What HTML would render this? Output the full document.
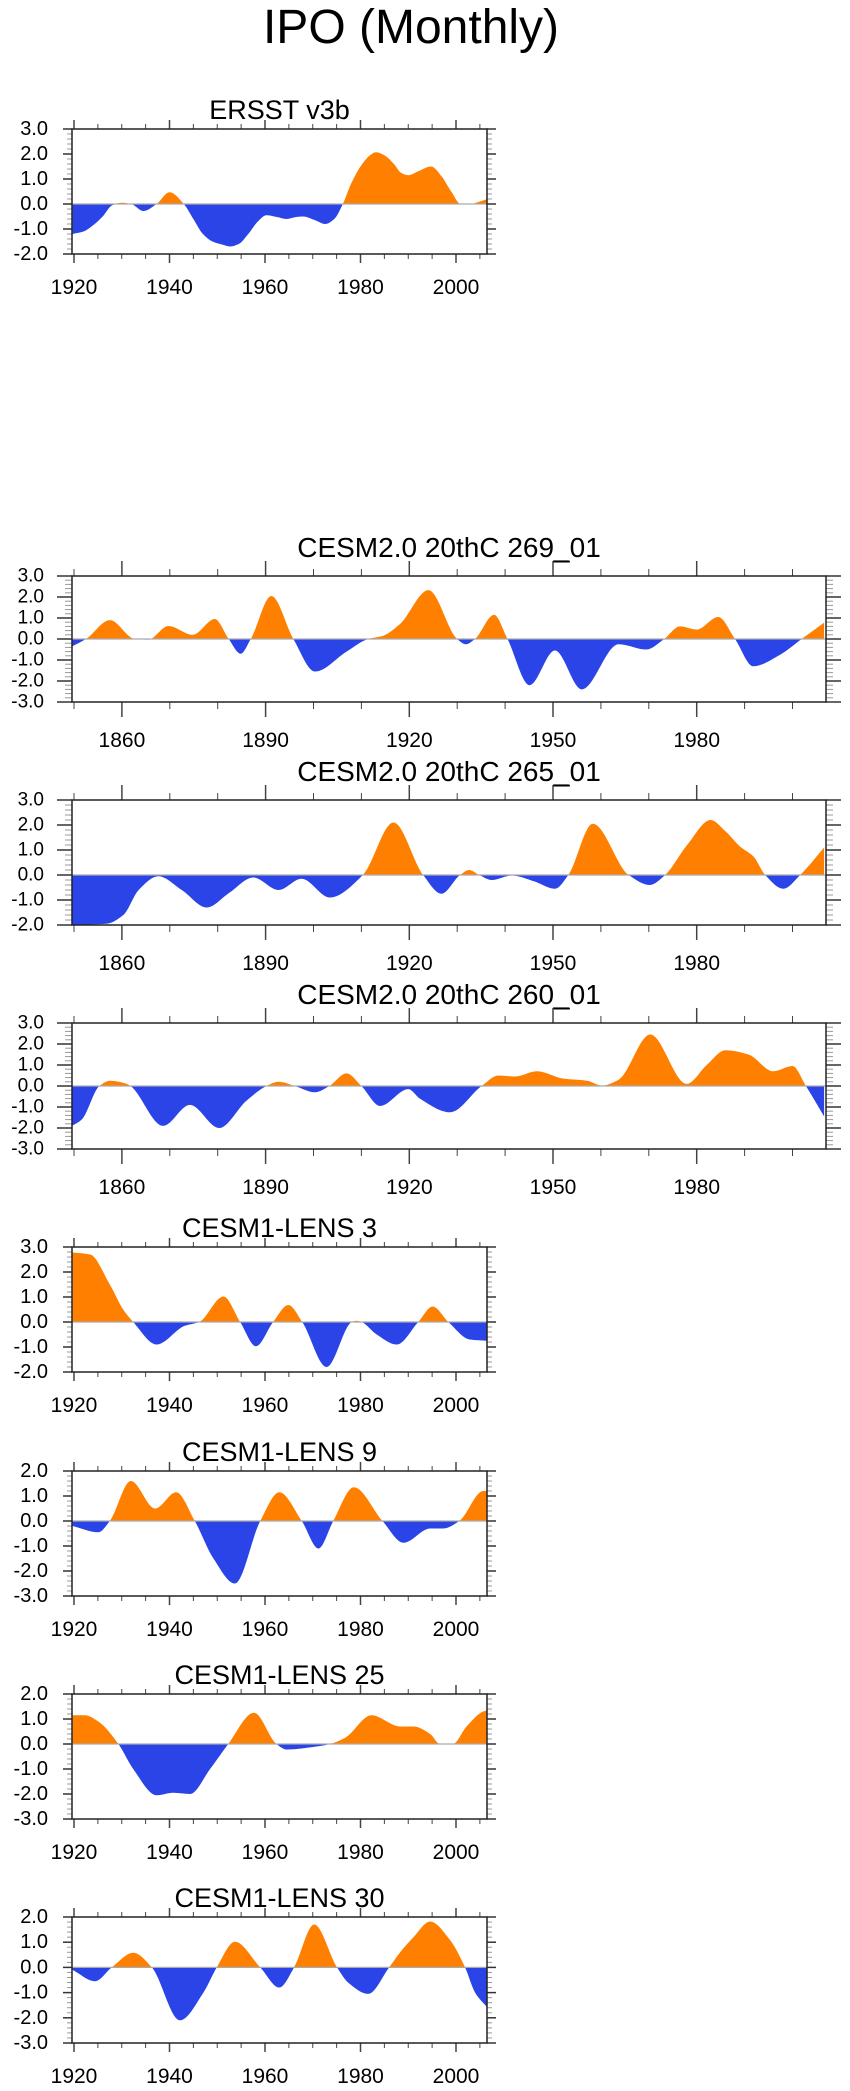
<!DOCTYPE html>
<html><head><meta charset="utf-8"><title>IPO (Monthly)</title>
<style>html,body{margin:0;padding:0;background:#fff}svg{display:block}</style></head>
<body>
<svg id="fig" width="850" height="2091" viewBox="0 0 850 2091" xmlns="http://www.w3.org/2000/svg" font-family="'Liberation Sans', sans-serif">
<text x="411" y="43" font-size="48" text-anchor="middle">IPO (Monthly)</text>
</svg>
<script>
// ERSST v3b
const ersstYears = [1919.7,1922,1924,1926,1928,1930,1932,1934.5,1937.3,1940,1943,1945,1947,1949,1951,1952.7,1954.5,1956.5,1958.5,1960.3,1962.5,1964.5,1966.5,1968,1970.5,1972.6,1974.5,1976.3,1978,1980,1982,1983.2,1985,1987,1988.5,1990,1992,1994.8,1997,1999,2001,2003,2005,2006.6];
const ersstValues = [-1.2,-1.1,-0.85,-0.5,-0.05,0.05,0.0,-0.28,0.0,0.47,0.0,-0.6,-1.2,-1.5,-1.62,-1.7,-1.6,-1.2,-0.7,-0.45,-0.52,-0.6,-0.52,-0.5,-0.65,-0.8,-0.6,0.0,0.8,1.5,1.95,2.07,1.95,1.6,1.25,1.15,1.3,1.5,1.1,0.5,0.0,0.0,0.1,0.2];
// CESM2.0 20thC 269_01
const c269Years = [1849.6,1852.5,1857.5,1862.7,1865.5,1869.7,1874.8,1879.4,1882.3,1884.8,1886.9,1891.2,1895.8,1900.3,1906.9,1911.4,1914.5,1918,1924,1930,1931.8,1933.7,1937.7,1940.5,1945.1,1950.4,1956,1963.7,1969.5,1973.2,1976.5,1980,1984.5,1988,1991.8,1997.4,2001.9,2006.6];
const c269Values = [-0.35,0.0,0.9,0.0,-0.03,0.62,0.2,0.95,0.0,-0.7,0.0,2.05,0.0,-1.55,-0.6,0.0,0.15,0.7,2.33,0.0,-0.25,0.0,1.15,0.0,-2.2,-0.55,-2.4,-0.25,-0.5,0.0,0.6,0.45,1.05,0.0,-1.3,-0.75,0.0,0.78];
// CESM2.0 20thC 265_01
const c265Years = [1849.6,1853,1856.8,1860.3,1863.5,1867.6,1872.5,1877.7,1882.5,1887.4,1892.7,1897.5,1903.4,1910.3,1916.7,1922.9,1926.7,1930.6,1932.5,1934.6,1937.2,1941.4,1946,1950.4,1953.2,1958.3,1965.8,1970.2,1973.4,1978,1982.9,1986,1989.1,1991.8,1994.3,1998.1,2001.6,2006.6];
const c265Values = [-2.0,-1.98,-1.95,-1.6,-0.6,-0.05,-0.6,-1.3,-0.7,-0.1,-0.6,-0.15,-0.9,0.0,2.1,0.0,-0.75,0.0,0.2,0.0,-0.2,-0.02,-0.25,-0.55,0.0,2.05,0.0,-0.4,0.0,1.2,2.2,1.75,1.13,0.75,0.0,-0.55,0.0,1.1];
// CESM2.0 20thC 260_01
const c260Years = [1849.6,1851.6,1855.3,1857.5,1861,1861.8,1868.6,1874.2,1880.3,1886,1890.2,1892.7,1896.1,1900.3,1903.3,1906.9,1910,1913.9,1919.8,1922.2,1928.5,1935.1,1938.6,1942.1,1946.6,1952.2,1957.1,1960.2,1963.7,1970.3,1977.9,1982.1,1986,1990.8,1996,2000,2002.8,2006.6];
const c260Values = [-1.9,-1.6,0.0,0.25,0.1,0.0,-1.9,-0.9,-2.0,-0.7,0.0,0.2,0.0,-0.3,0.0,0.6,0.0,-0.95,-0.15,-0.6,-1.25,0.0,0.5,0.45,0.7,0.35,0.25,0.02,0.3,2.45,0.1,1.0,1.7,1.5,0.7,0.95,0.0,-1.45];
// CESM1-LENS 3
const l3Years = [1919.7,1923.4,1927.5,1930.3,1932.4,1937.3,1943.2,1946.2,1951.3,1954.8,1958.1,1961.7,1964.9,1967.8,1972.9,1978.2,1979.2,1980.2,1983.4,1987.6,1992.1,1995.1,1998.4,2002.9,2006.6];
const l3Values = [2.78,2.7,1.5,0.5,0.0,-0.9,-0.15,0.0,1.02,0.0,-0.97,0.0,0.68,0.0,-1.8,0.0,0.05,0.0,-0.5,-0.9,0.0,0.62,0.0,-0.7,-0.75];
// CESM1-LENS 9
const l9Years = [1919.7,1925.1,1927.5,1931.9,1937,1941.4,1945.3,1949.2,1953.7,1959,1963,1967.7,1971.2,1974.3,1978.6,1984.6,1989,1994.6,1997.3,2000.7,2005.7,2006.6];
const l9Values = [-0.2,-0.45,0.0,1.6,0.5,1.15,0.0,-1.5,-2.5,0.0,1.15,0.0,-1.1,0.0,1.35,0.0,-0.87,-0.3,-0.3,0.0,1.2,1.2];
// CESM1-LENS 25
const l25Years = [1919.7,1922.3,1925.1,1929.3,1932.4,1937.3,1940.8,1944.3,1948.5,1952.3,1957.7,1962.4,1964.5,1970.8,1973.6,1976.8,1982.3,1988.3,1991.1,1994.6,1996.6,1998,1999.4,2002.2,2005.7,2006.6];
const l25Values = [1.15,1.15,0.9,0.0,-1.0,-2.05,-1.95,-2.0,-1.0,0.0,1.25,0.0,-0.22,-0.1,0.0,0.25,1.15,0.7,0.7,0.4,0.0,-0.02,0.0,0.7,1.3,1.35];
// CESM1-LENS 30
const l30Years = [1919.7,1924.4,1927.9,1932.4,1936.3,1942.2,1947.1,1949.9,1953.7,1959,1963,1966.1,1970.3,1975.1,1977.4,1981.6,1986,1988.3,1991.1,1994.6,1998.7,2001.9,2004,2006.6];
const l30Values = [-0.1,-0.55,0.0,0.58,0.0,-2.1,-1.0,0.0,1.02,0.0,-0.8,0.0,1.7,0.0,-0.6,-1.05,0.0,0.6,1.2,1.82,1.1,0.0,-1.0,-1.6];

const wideTickLabels = [1860,1890,1920,1950,1980];
const narrowTickLabels = [1920,1940,1960,1980,2000];

const NS = 'http://www.w3.org/2000/svg';
const svg = document.getElementById('fig');
function el(tag, attrs, parent){const e=document.createElementNS(NS,tag);for(const k in attrs)e.setAttribute(k,attrs[k]);(parent||svg).appendChild(e);return e;}

const panels = [
 {key:'ersst',title:'ERSST v3b',top:129,bottom:254,ymin:-2,ymax:3,wide:false,xs:ersstYears,ys:ersstValues},
 {key:'cesm2-269',title:'CESM2.0 20thC 269_01',top:576,bottom:702,ymin:-3,ymax:3,wide:true,xs:c269Years,ys:c269Values},
 {key:'cesm2-265',title:'CESM2.0 20thC 265_01',top:800,bottom:925,ymin:-2,ymax:3,wide:true,xs:c265Years,ys:c265Values},
 {key:'cesm2-260',title:'CESM2.0 20thC 260_01',top:1023,bottom:1149,ymin:-3,ymax:3,wide:true,xs:c260Years,ys:c260Values},
 {key:'lens-3',title:'CESM1-LENS 3',top:1247,bottom:1372,ymin:-2,ymax:3,wide:false,xs:l3Years,ys:l3Values},
 {key:'lens-9',title:'CESM1-LENS 9',top:1471,bottom:1596,ymin:-3,ymax:2,wide:false,xs:l9Years,ys:l9Values},
 {key:'lens-25',title:'CESM1-LENS 25',top:1694,bottom:1819,ymin:-3,ymax:2,wide:false,xs:l25Years,ys:l25Values},
 {key:'lens-30',title:'CESM1-LENS 30',top:1917,bottom:2043,ymin:-3,ymax:2,wide:false,xs:l30Years,ys:l30Values}
];

// monotone cubic (Fritsch-Carlson) path through pixel points
function monotonePath(pts){
  const n=pts.length, dx=[], s=[], m=new Array(n);
  for(let i=0;i<n-1;i++){dx[i]=pts[i+1][0]-pts[i][0]; s[i]=(pts[i+1][1]-pts[i][1])/dx[i];}
  m[0]=s[0]; m[n-1]=s[n-2];
  for(let i=1;i<n-1;i++){
    if(s[i-1]*s[i]<=0) m[i]=0;
    else { const w1=2*dx[i]+dx[i-1], w2=dx[i]+2*dx[i-1]; m[i]=(w1+w2)/(w1/s[i-1]+w2/s[i]); }
  }
  let d='M'+pts[0][0].toFixed(2)+','+pts[0][1].toFixed(2);
  for(let i=0;i<n-1;i++){
    const h=dx[i]/3;
    d+=' C'+(pts[i][0]+h).toFixed(2)+','+(pts[i][1]+m[i]*h).toFixed(2)+' '+(pts[i+1][0]-h).toFixed(2)+','+(pts[i+1][1]-m[i+1]*h).toFixed(2)+' '+pts[i+1][0].toFixed(2)+','+pts[i+1][1].toFixed(2);
  }
  return d;
}

const defs = el('defs',{});
panels.forEach((p,pi)=>{
  const L=72, R=p.wide?826:487, T=p.top, B=p.bottom;
  const x0 = p.wide?1850:1920, pxPerYr = p.wide?4.79:4.775;
  const xScale = yr => 74 + (yr - x0)*pxPerYr;
  const yScale = v => B - (v - p.ymin)/(p.ymax - p.ymin)*(B - T);
  const zy = yScale(0);
  const g = el('g',{});
  
  

  const cu = el('clipPath',{id:'cu'+pi},defs); el('rect',{x:L,y:T,width:R-L,height:zy-T},cu);
  const cd = el('clipPath',{id:'cd'+pi},defs); el('rect',{x:L,y:zy,width:R-L,height:B-zy},cd);

  const pts = p.xs.map((yr,i)=>[xScale(yr), yScale(p.ys[i])]);
  const curve = monotonePath(pts);
  const area = curve+' L'+pts[pts.length-1][0].toFixed(2)+','+zy+' L'+pts[0][0].toFixed(2)+','+zy+' Z';
  const pos = el('path',{d:area,fill:'#ff8000','clip-path':'url(#cu'+pi+')'},g);
  
  
  const neg = el('path',{d:area,fill:'#2a44e8','clip-path':'url(#cd'+pi+')'},g);
  
  
  const zl = el('line',{x1:L,x2:R,y1:zy,y2:zy,stroke:'#aaaaaa','stroke-width':1.2},g);
  
  

  const maj = p.wide?15:9, mnr = p.wide?7:5;
  const step = p.wide?10:5, majStep = p.wide?30:20;
  for(let yr = x0; xScale(yr) <= R+0.5; yr += step){
    const x = xScale(yr);
    const isMaj = ((yr - (p.wide?1860:1920)) % majStep)===0;
    const len = isMaj?maj:mnr;
    el('line',{x1:x,x2:x,y1:T,y2:T-len,stroke:'#444','stroke-width':isMaj?1.5:1},g);
    el('line',{x1:x,x2:x,y1:B,y2:B+len,stroke:'#444','stroke-width':isMaj?1.5:1},g);
  }
  if(p.wide){
    const hx = xScale(1950);
    el('line',{x1:hx,x2:hx+16,y1:T-maj,y2:T-maj,stroke:'#555','stroke-width':1.5},g);
  }
  for(let k=0;k<= (p.ymax-p.ymin)*5;k++){
    const v = p.ymin + k*0.2, y = yScale(v);
    const isMaj = k%5===0, len = isMaj?maj:mnr;
    const col = isMaj?'#333':'#999';
    el('line',{x1:L,x2:L-len,y1:y,y2:y,stroke:col,'stroke-width':isMaj?1.5:1},g);
    el('line',{x1:R,x2:R+len,y1:y,y2:y,stroke:col,'stroke-width':isMaj?1.5:1},g);
  }
  const fr = el('rect',{x:L,y:T,width:R-L,height:B-T,fill:'none',stroke:'#222','stroke-width':1.5},g);
  
  

  for(let v=p.ymin; v<=p.ymax; v++){
    const t = el('text',{x:p.wide?44:48,y:yScale(v),'font-size':p.wide?19:20,'text-anchor':'end','dominant-baseline':'central'},g);
    t.textContent = v.toFixed(1);
    
    
  }
  const labs = p.wide?wideTickLabels:narrowTickLabels;
  labs.forEach(yr=>{
    const t = el('text',{x:xScale(yr),y:B+(p.wide?45:40),'font-size':21,'text-anchor':'middle'},g);
    t.textContent = String(yr);
    
    
  });
  const tt = el('text',{x:(L+R)/2,y:p.wide?T-19:T-10,'font-size':p.wide?28:27,'text-anchor':'middle'},g);
  tt.textContent = p.title;
  
  
});
</script>
</body></html>
